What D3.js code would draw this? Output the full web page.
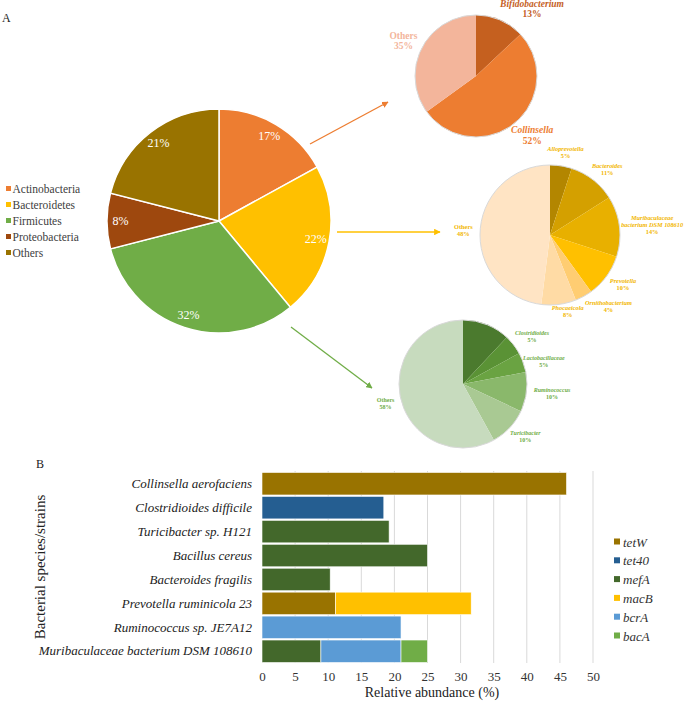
<!DOCTYPE html>
<html>
<head>
<meta charset="utf-8">
<script src="https://cdn.jsdelivr.net/npm/d3@7"></script>
<style>
body { margin: 0; background: #fff; }
text { font-family: 'Liberation Serif', 'Times New Roman', serif; }
</style>
</head>
<body>
<svg id="chart" width="685" height="701"></svg>
<script>
// panel A: phyla (big pie) and the genera inside three of them
const phyla = ['Actinobacteria', 'Bacteroidetes', 'Firmicutes', 'Proteobacteria', 'Others']
const phylaPct = [17, 22, 32, 8, 21]

const actinoGenera = ['Bifidobacterium', 'Collinsella', 'Others']
const actinoPct = [13, 52, 35]

const bacteroGenera = ['Alloprevotella', 'Bacteroides', 'Muribaculaceae bacterium DSM 108610', 'Prevotella', 'Ornithobacterium', 'Phocaeicola', 'Others']
const bacteroPct = [5, 11, 14, 10, 4, 8, 48]

// first slice has no readable label in the figure
const firmiGenera = ['', 'Clostridioides', 'Lactobacillaceae', 'Ruminococcus', 'Turicibacter', 'Others']
const firmiPct = [12, 5, 5, 10, 10, 58]

// panel B: relative abundance of ARGs per host
const species = ['Collinsella aerofaciens', 'Clostridioides difficile', 'Turicibacter sp. H121', 'Bacillus cereus',
                 'Bacteroides fragilis', 'Prevotella ruminicola 23', 'Ruminococcus sp. JE7A12', 'Muribaculaceae bacterium DSM 108610']
const genes = ['tetW', 'tet40', 'mefA', 'macB', 'bcrA', 'bacA']
const tetW  = [46, 0, 0, 0, 0, 11.1, 0, 0]
const tet40 = [0, 18.4, 0, 0, 0, 0, 0, 0]
const mefA  = [0, 0, 19.2, 25, 10.3, 0, 0, 8.9]
const macB  = [0, 0, 0, 0, 0, 20.5, 0, 0]
const bcrA  = [0, 0, 0, 0, 0, 0, 21, 12.1]
const bacA  = [0, 0, 0, 0, 0, 0, 0, 4]
const xTicks = [0, 5, 10, 15, 20, 25, 30, 35, 40, 45, 50]

let svg = d3.select('#chart')

// ---------- styles / layout ----------
const phylaColors = ['#ED7D31', '#FFC000', '#70AD47', '#9E480E', '#997300']
const actinoColors = ['#C5601F', '#ED7D31', '#F3B59B']
const bacteroColors = ['#B38600', '#D4A000', '#E8B000', '#FFC000', '#FFCD72', '#FFDBA5', '#FFE4C4']
const firmiColors = ['#4B7A2E', '#5A9235', '#6AA342', '#8AB86B', '#A9C993', '#C7DBBE']
const geneColors = ['#997300', '#255E91', '#43682B', '#FFC000', '#5B9BD5', '#70AD47']

// small hand nudges where excel moved a label off its default spot
const nudge = {
    'Bifidobacterium': [16, 4],
    'Muribaculaceae bacterium DSM 108610': [-5, 0],
    'Ornithobacterium': [10, -3],
    'Phocaeicola': [6, -7],
    'Lactobacillaceae': [-6, 4]
}

let pie = d3.pie().sort(null).value(d => d.v)

let drawSubPie = (cx, cy, r, names, values, colors, opt) => {
    let data = pie(names.map((n, i) => ({n: n, v: values[i], c: colors[i]})))
    let g = svg.append('g').attr('transform', `translate(${cx},${cy})`)
    let arc = d3.arc().innerRadius(0).outerRadius(r)

    g.selectAll('path').data(data).enter().append('path')
        .attr('d', arc)
        .attr('fill', d => d.data.c)
    g.append('circle').attr('r', r).attr('fill', 'none').attr('stroke', '#d9d9d9').attr('stroke-width', 1)

    data.forEach(d => {
        if(d.data.n == '') return
        let name = d.data.n
        let lines = name.length > 20 ? [name.slice(0, name.indexOf(' ')), name.slice(name.indexOf(' ') + 1)] : [name]
        let lab = g.append('g')
        let t = lab.append('text')
            .attr('text-anchor', 'middle')
            .attr('font-size', opt.size)
            .attr('font-weight', 'bold')
            .attr('fill', opt.labelColor ? opt.labelColor : d.data.c)
        lines.forEach((l, i) => {
            t.append('tspan').attr('x', 0).attr('dy', i == 0 ? 0 : opt.lineH)
                .attr('font-style', name == 'Others' ? 'normal' : 'italic')
                .text(l)
        })
        t.append('tspan').attr('x', 0).attr('dy', opt.lineH).text(d.data.v + '%')

        let bb = t.node().getBBox()
        let a = (d.startAngle + d.endAngle) / 2
        let R = r * 1.1
        let halfW = bb.width / 2, halfH = bb.height / 2
        let lx = R * Math.sin(a) + halfW * Math.sin(a)
        let ly = -R * Math.cos(a) - halfH * Math.cos(a)
        let nd = nudge[name] || [0, 0]
        lx += nd[0]; ly += nd[1]
        lab.attr('transform', `translate(${lx - (bb.x + halfW)},${ly - (bb.y + halfH)})`)
    })
}

// ---------- panel A ----------
svg.append('text').attr('x', 2).attr('y', 22).attr('font-size', 12).attr('fill', '#222').text('A')

let mainCx = 219, mainCy = 221, mainR = 112
let mainG = svg.append('g').attr('transform', `translate(${mainCx},${mainCy})`)
let mainData = pie(phyla.map((n, i) => ({n: n, v: phylaPct[i], c: phylaColors[i]})))
let mainArc = d3.arc().innerRadius(0).outerRadius(mainR)
let mainLabelArc = d3.arc().innerRadius(mainR * 0.88).outerRadius(mainR * 0.88)

mainG.selectAll('path').data(mainData).enter().append('path')
    .attr('d', mainArc)
    .attr('fill', d => d.data.c)
    .attr('stroke', '#fff')
    .attr('stroke-width', 1.5)

mainG.selectAll('text.pct').data(mainData).enter().append('text')
    .attr('class', 'pct')
    .attr('transform', d => `translate(${mainLabelArc.centroid(d)})`)
    .attr('text-anchor', 'middle')
    .attr('dominant-baseline', 'central')
    .attr('font-size', 12)
    .attr('fill', '#fff')
    .text(d => d.data.v + '%')

// legend
let leg = svg.append('g').attr('transform', 'translate(6,189)')
phyla.forEach((p, i) => {
    let row = leg.append('g').attr('transform', `translate(0,${i * 16})`)
    row.append('rect').attr('x', 0).attr('y', -3).attr('width', 5).attr('height', 5).attr('fill', phylaColors[i])
    row.append('text').attr('x', 6.5).attr('y', 0).attr('dominant-baseline', 'central')
        .attr('font-size', 11.5).attr('fill', '#404040').text(p)
})

// arrows from the big pie to the sub pies
let defs = svg.append('defs')
let arrows = [
    {c: '#ED7D31', x1: 310, y1: 144, x2: 388, y2: 102},
    {c: '#FFC000', x1: 337, y1: 232, x2: 440, y2: 232},
    {c: '#70AD47', x1: 291, y1: 327, x2: 372, y2: 388}
]
arrows.forEach((a, i) => {
    defs.append('marker').attr('id', 'ah' + i)
        .attr('viewBox', '0 0 10 10').attr('refX', 9).attr('refY', 5)
        .attr('markerWidth', 5).attr('markerHeight', 5).attr('orient', 'auto')
        .append('path').attr('d', 'M0,0L10,5L0,10Z').attr('fill', a.c)
    svg.append('line')
        .attr('x1', a.x1).attr('y1', a.y1).attr('x2', a.x2).attr('y2', a.y2)
        .attr('stroke', a.c).attr('stroke-width', 1.3)
        .attr('marker-end', `url(#ah${i})`)
})

drawSubPie(476, 76, 61, actinoGenera, actinoPct, actinoColors, {size: 9.5, lineH: 10.5})
drawSubPie(550, 235, 70, bacteroGenera, bacteroPct, bacteroColors, {size: 6.3, lineH: 7, labelColor: '#F2B600'})
drawSubPie(463, 384, 64, firmiGenera, firmiPct, firmiColors, {size: 6, lineH: 7, labelColor: '#70AD47'})

// ---------- panel B ----------
svg.append('text').attr('x', 36).attr('y', 468).attr('font-size', 12).attr('fill', '#222').text('B')

let geneSeries = [tetW, tet40, mefA, macB, bcrA, bacA]
let rows = species.map((s, i) => {
    let o = {species: s}
    genes.forEach((g, j) => o[g] = geneSeries[j][i])
    return o
})
let stacked = d3.stack().keys(genes)(rows)

let xB = d3.scaleLinear().domain([0, 50]).range([262, 593])
let yB = d3.scaleBand().domain(species).range([472, 663]).paddingInner(0.06).paddingOuter(0.02)

// grid
svg.append('g').selectAll('line').data(xTicks.slice(1)).enter().append('line')
    .attr('x1', d => xB(d)).attr('x2', d => xB(d))
    .attr('y1', 471).attr('y2', 663)
    .attr('stroke', '#d9d9d9').attr('stroke-width', 1)

svg.append('g').selectAll('g').data(stacked).enter().append('g')
    .attr('fill', (d, i) => geneColors[i])
    .selectAll('rect').data(d => d.filter(e => e[1] - e[0] > 0)).enter().append('rect')
        .attr('x', d => xB(d[0]))
        .attr('width', d => xB(d[1]) - xB(d[0]))
        .attr('y', d => yB(d.data.species))
        .attr('height', yB.bandwidth())
        .attr('stroke', '#fff')
        .attr('stroke-width', 0.6)

let xAxisB = svg.append('g').attr('transform', 'translate(0,668)')
    .call(d3.axisBottom(xB).tickValues(xTicks).tickSize(0).tickPadding(4))
xAxisB.select('.domain').remove()
xAxisB.selectAll('text').attr('font-family', "'Liberation Serif', serif").attr('font-size', 13).attr('fill', '#333')

let yAxisB = svg.append('g').attr('transform', 'translate(262,0)')
    .call(d3.axisLeft(yB).tickSize(0).tickPadding(10))
yAxisB.select('.domain').remove()
yAxisB.selectAll('text').attr('font-family', "'Liberation Serif', serif").attr('font-size', 13)
    .attr('font-style', 'italic').attr('fill', '#222')

svg.append('text').attr('x', 432).attr('y', 697).attr('text-anchor', 'middle')
    .attr('font-size', 14).attr('fill', '#222').text('Relative abundance (%)')

svg.append('text').attr('transform', 'translate(45,567) rotate(-90)').attr('text-anchor', 'middle')
    .attr('font-size', 15).attr('fill', '#222').text('Bacterial species/strains')

// bar legend
let legB = svg.append('g').attr('transform', 'translate(614,542)')
genes.forEach((g, i) => {
    let row = legB.append('g').attr('transform', `translate(0,${i * 18.8})`)
    row.append('rect').attr('x', 0).attr('y', -3.5).attr('width', 6).attr('height', 6).attr('fill', geneColors[i])
    row.append('text').attr('x', 9).attr('y', 0).attr('dominant-baseline', 'central')
        .attr('font-size', 13).attr('font-style', 'italic').attr('fill', '#333').text(g)
})
</script>
</body>
</html>
